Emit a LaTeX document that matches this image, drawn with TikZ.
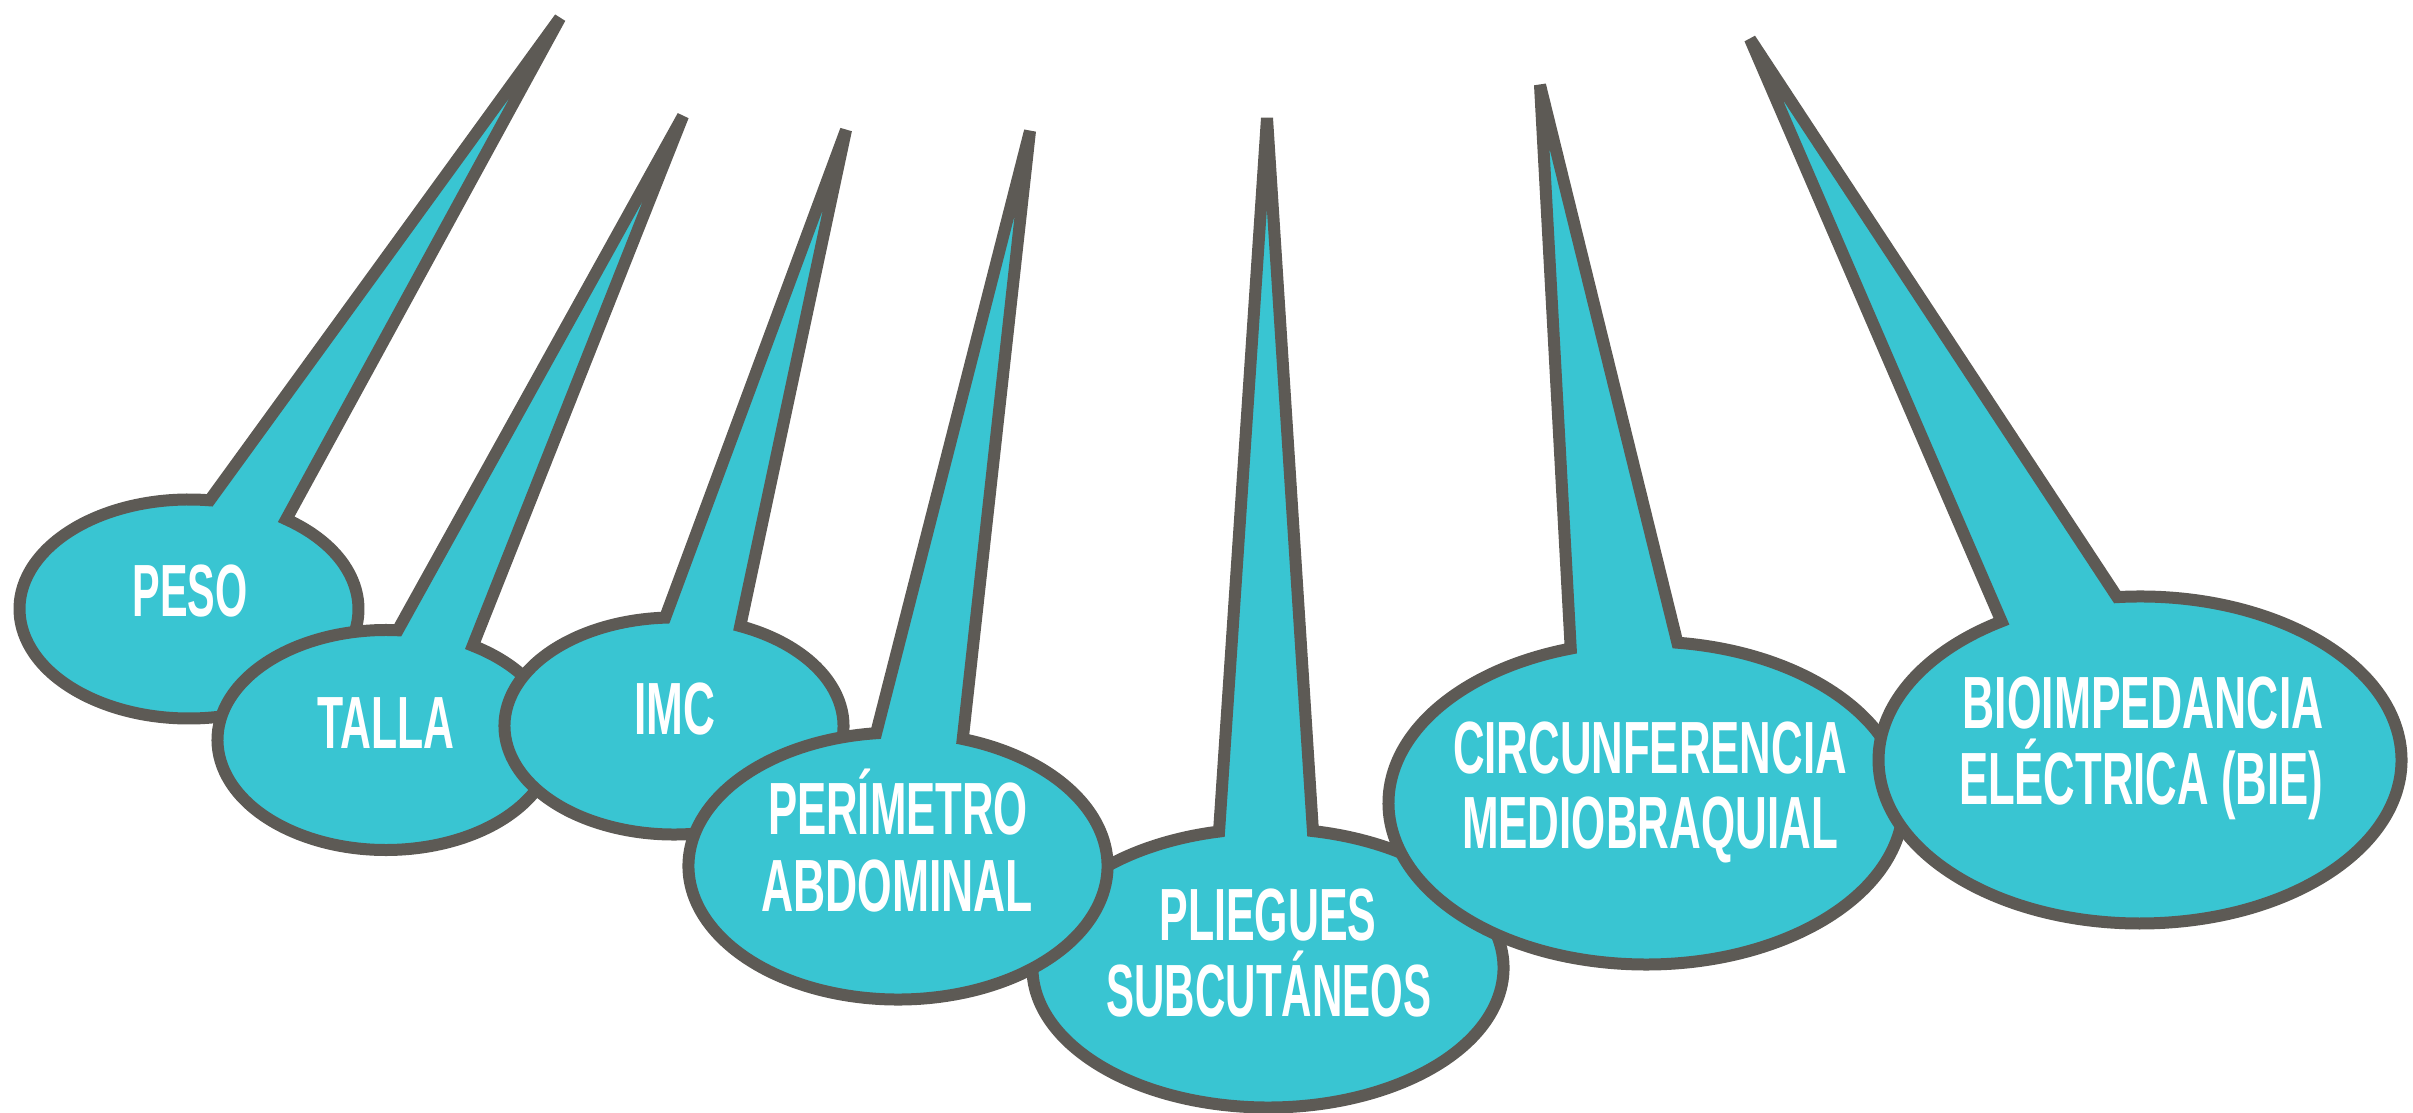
\documentclass[tikz,border=0pt]{standalone}
\usepackage{fontspec}
\usepackage{graphicx}
\setmainfont{Liberation Sans}
\definecolor{bubfill}{HTML}{39C5D2}
\definecolor{bubline}{HTML}{5D5A55}
\newcommand{\fitw}[2]{\resizebox{#1pt}{\height}{#2}}
\tikzset{
  bub/.style={fill=bubfill, draw=bubline, line width=12pt, line join=miter, miter limit=4},
  lbl/.style={text=white, anchor=base, inner sep=0pt, font=\fontsize{74}{77}\selectfont\bfseries}
}
\begin{document}
\begin{tikzpicture}[x=1pt,y=1pt]
\useasboundingbox (0,0) rectangle (2413,1113);
% centres and tips
\coordinate (c1) at (189,504);  \coordinate (p1) at (560,1095);
\coordinate (c2) at (386,373);  \coordinate (p2) at (683,997);
\coordinate (c3) at (674,387);  \coordinate (p3) at (846,983);
\coordinate (c4) at (898,247);  \coordinate (p4) at (1030,982);
\coordinate (c5) at (1268,145); \coordinate (p5) at (1267,995);
\coordinate (c6) at (1646,310); \coordinate (p6) at (1540,1028);
\coordinate (c7) at (2140,353); \coordinate (p7) at (1750,1074);
% bubbles (drawing order matters)
\draw[bub] (c1) ++(55:169.5pt and 109.5pt) arc[start angle=55, end angle=-277, x radius=169.5pt, y radius=109.5pt] -- (p1) -- cycle;
\draw[bub] (c2) ++(59:168.5pt and 110pt) arc[start angle=59, end angle=-274, x radius=168.5pt, y radius=110pt] -- (p2) -- cycle;
\draw[bub] (c3) ++(67:169.5pt and 108.5pt) arc[start angle=67, end angle=-267, x radius=169.5pt, y radius=108.5pt] -- (p3) -- cycle;
\draw[bub] (c5) ++(79:235.5pt and 139.5pt) arc[start angle=79, end angle=-258, x radius=235.5pt, y radius=139.5pt] -- (p5) -- cycle;
\draw[bub] (c4) ++(72:209.5pt and 133.5pt) arc[start angle=72, end angle=-264, x radius=209.5pt, y radius=133.5pt] -- (p4) -- cycle;
\draw[bub] (c6) ++(83:257.5pt and 161.5pt) arc[start angle=83, end angle=-253, x radius=257.5pt, y radius=161.5pt] -- (p6) -- cycle;
\draw[bub] (c7) ++(95:261.5pt and 163.5pt) arc[start angle=95, end angle=-238, x radius=261.5pt, y radius=163.5pt] -- (p7) -- cycle;
% labels
\node[lbl] (t1) at (190,496) {\fitw{115}{PESO}};
\node[lbl] (t2) at (386,364) {\fitw{137}{TALLA}};
\node[lbl] (t3) at (675,378) {\fitw{81}{IMC}};
\node[lbl] (t4a) at (898,278) {\fitw{260}{PERÍMETRO}};
\node[lbl] (t4b) at (897,201) {\fitw{272}{ABDOMINAL}};
\node[lbl] (t5a) at (1268,172) {\fitw{217}{PLIEGUES}};
\node[lbl] (t5b) at (1269,96) {\fitw{325}{SUBCUTÁNEOS}};
\node[lbl] (t6a) at (1650,339) {\fitw{394}{CIRCUNFERENCIA}};
\node[lbl] (t6b) at (1650,264) {\fitw{376}{MEDIOBRAQUIAL}};
\node[lbl] (t7a) at (2143,384) {\fitw{361}{BIOIMPEDANCIA}};
\node[lbl] (t7b) at (2141,308) {\fitw{364}{ELÉCTRICA (BIE)}};
\end{tikzpicture}
\end{document}
